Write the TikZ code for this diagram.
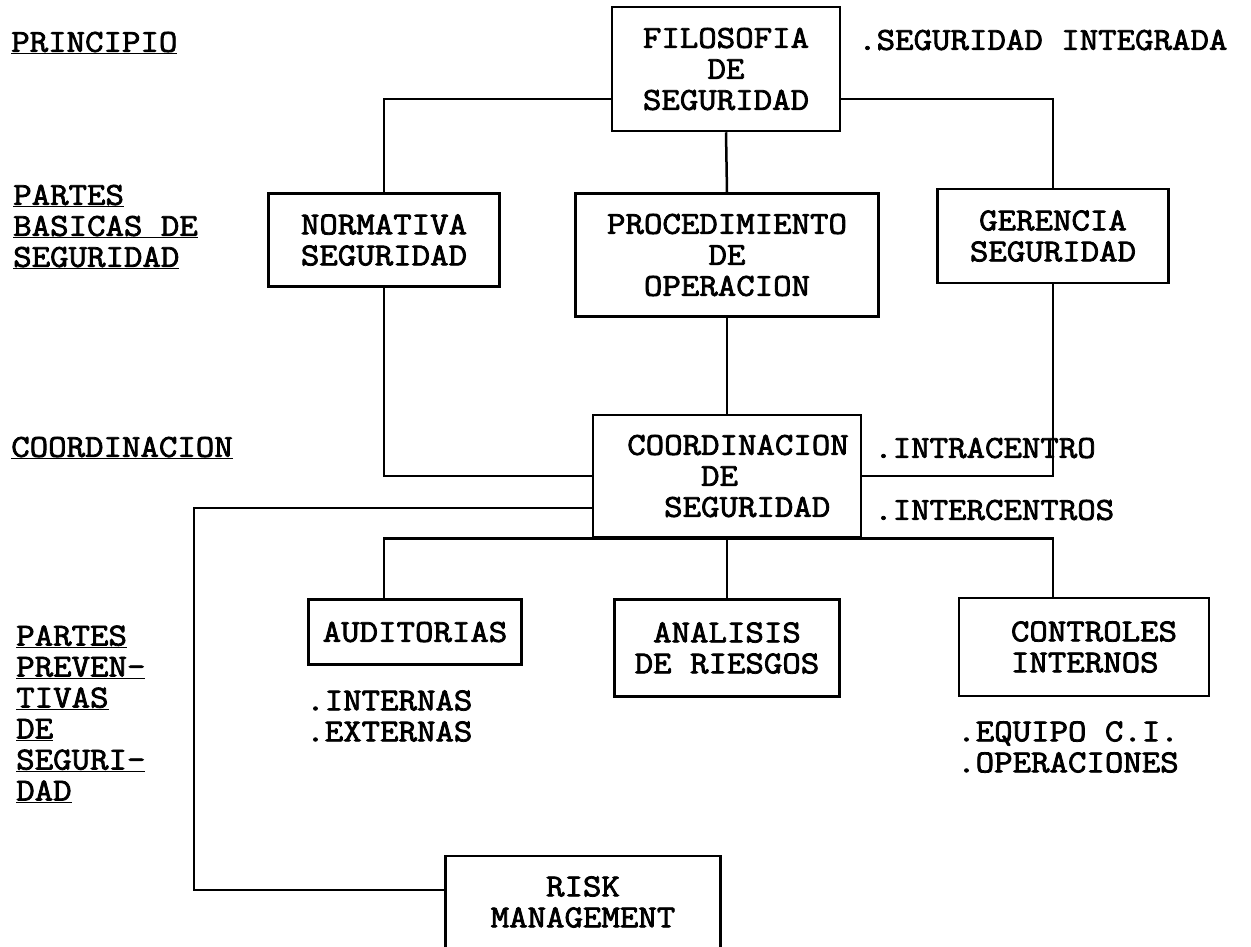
\documentclass[tikz,border=0pt]{standalone}
\usepackage{fontspec}
\setmonofont[FakeBold=2.4,FakeStretch=1.12]{Latin Modern Mono}
\newcommand{\tipo}{\ttfamily\fontsize{32}{31}\selectfont}

\begin{document}
\begin{tikzpicture}[x=1pt,y=1pt,line width=2.5pt,
  caja/.style={draw,inner sep=0pt,align=center,font=\tipo},
  nota/.style={anchor=west,inner sep=0pt,align=left,font=\tipo}]
\useasboundingbox (0,0) rectangle (1251,-946);
% niveles a la izquierda
\node[nota] (tprin) at (10,-43) {\underline{PRINCIPIO}};
\node[nota] (tbas) at (12,-227) {\underline{PARTES}\\\underline{BASICAS DE}\\\underline{SEGURIDAD}};
\node[nota] (tcoor) at (10,-448) {\underline{COORDINACION}};
\node[nota] (tprev) at (15,-714) {\underline{PARTES}\\\underline{PREVEN-}\\\underline{TIVAS}\\\underline{DE}\\\underline{SEGURI-}\\\underline{DAD}};
% cajas
\node[caja,minimum width=228pt,minimum height=124pt] (filo) at (726,-69) {FILOSOFIA\\DE\\SEGURIDAD};
\node[caja,minimum width=231pt,minimum height=93pt] (norm) at (384,-240) {NORMATIVA\\SEGURIDAD};
\node[caja,minimum width=303pt,minimum height=123pt] (proc) at (727,-255) {PROCEDIMIENTO\\DE\\OPERACION};
\node[caja,minimum width=231pt,minimum height=94pt] (ger) at (1053,-236) {GERENCIA\\SEGURIDAD};
\node[caja,align=left,minimum width=268pt,minimum height=122pt] (coord) at (727,-476)
  {\hspace*{22pt}COORDINACION\\\hspace*{22pt}\phantom{XXXX}DE\\\hspace*{22pt}\phantom{XX}SEGURIDAD};
\node[caja,minimum width=213pt,minimum height=65pt] (aud) at (415,-632) {AUDITORIAS};
\node[caja,minimum width=225pt,minimum height=97pt] (anal) at (727,-648) {ANALISIS\\DE RIESGOS};
\node[caja,align=left,minimum width=250pt,minimum height=98pt] (ctrl) at (1084,-647)
  {\hspace*{20pt}CONTROLES\\\hspace*{20pt}INTERNOS};
\node[caja,minimum width=275pt,minimum height=92pt] (risk) at (583,-902) {RISK\\MANAGEMENT};
% notas
\node[nota] (integ) at (857,-40) {.SEGURIDAD INTEGRADA};
\node[nota] (intra) at (873,-448) {.INTRACENTRO};
\node[nota] (inter) at (873,-510) {.INTERCENTROS};
\node[nota] (extn) at (305,-716) {.INTERNAS\\.EXTERNAS};
\node[nota] (equi) at (956,-747) {.EQUIPO C.I.\\.OPERACIONES};
% conexiones
\draw ([yshift=-30pt]filo.west) -| (norm.north);
\draw ([yshift=-30pt]filo.east) -| (ger.north);
\draw (filo.south) -- (proc.north);
\draw (norm.south) |- (coord.west);
\draw (ger.south) |- (coord.east);
\draw (proc.south) -- (coord.north);
\coordinate (codo) at (194,-508);
\draw ([yshift=-32pt]coord.west) -- (codo) |- ([yshift=12pt]risk.west);
\draw (coord.south) -| (aud.north -| norm.south);
\draw (coord.south) -| (ctrl.north -| ger.south);
\draw (coord.south) -- (anal.north);
\end{tikzpicture}
\end{document}
